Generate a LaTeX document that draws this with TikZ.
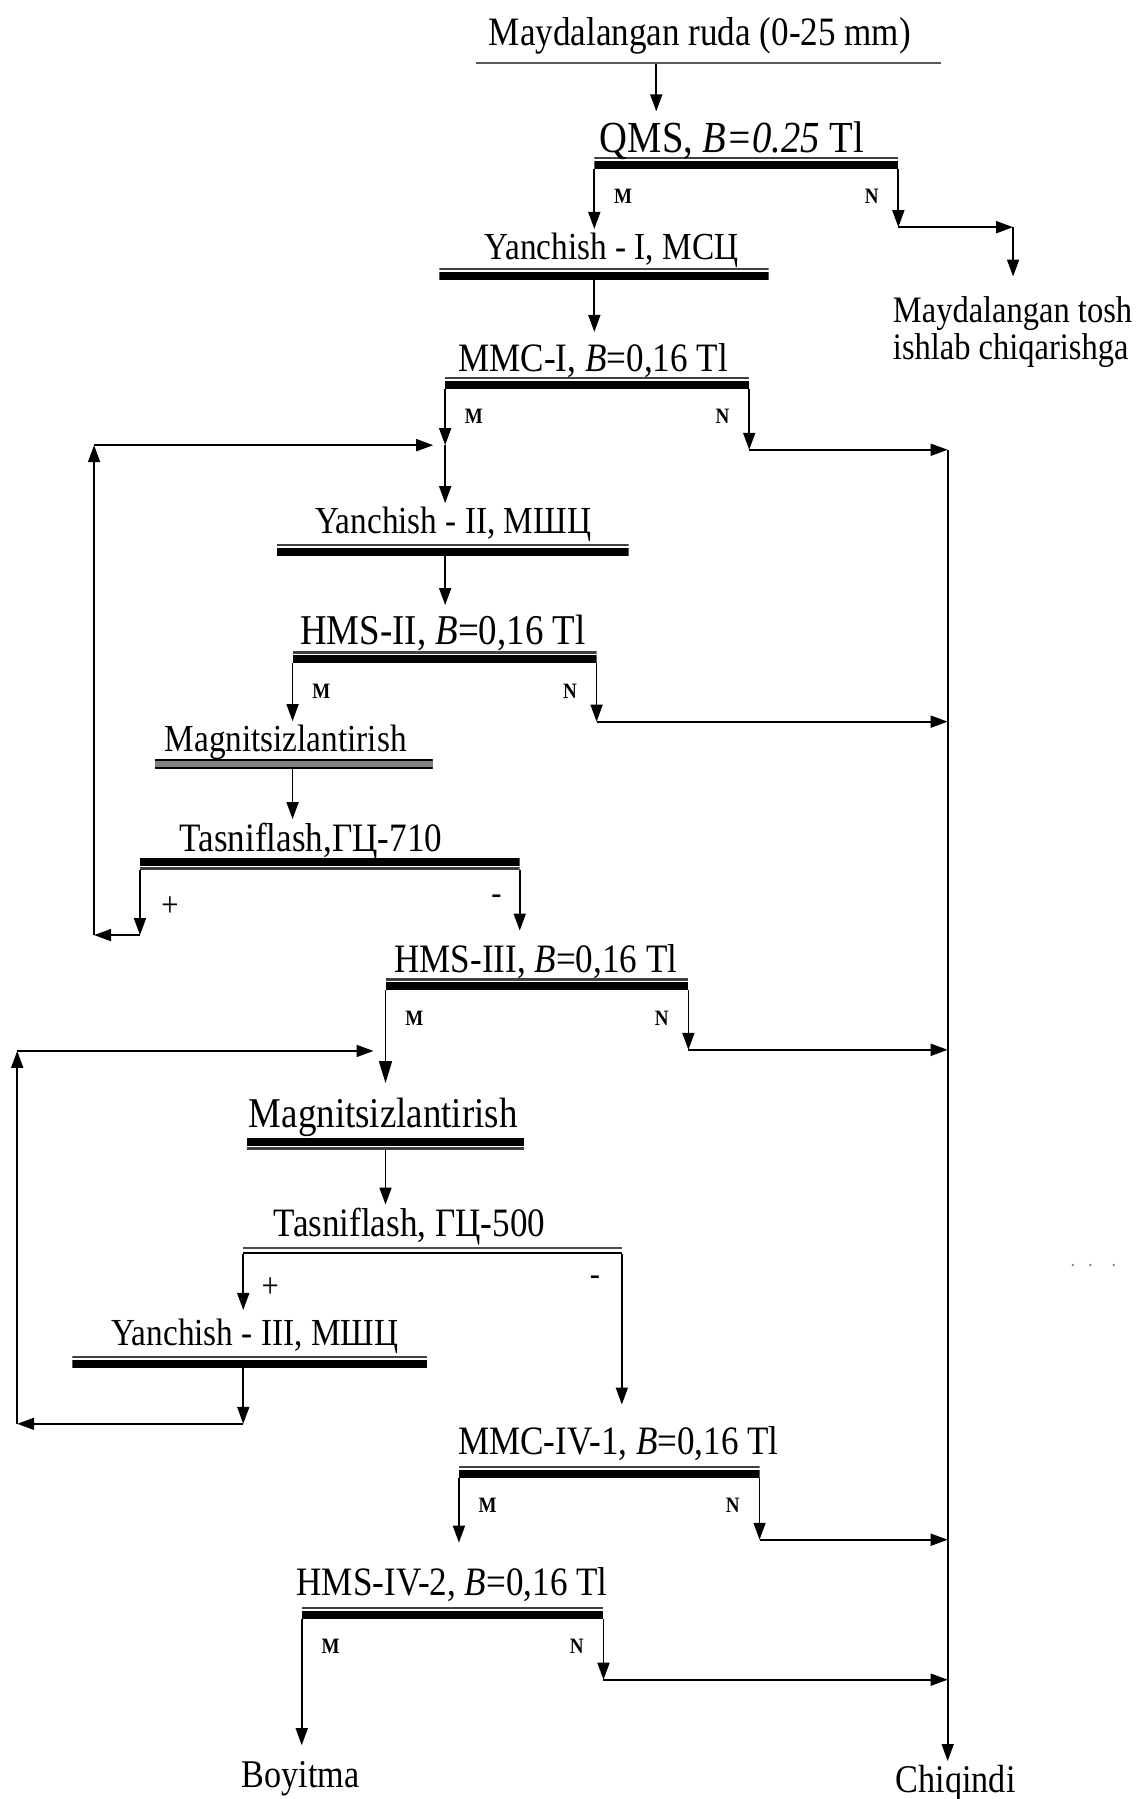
\documentclass[tikz,border=0pt]{standalone}
\usepackage{fontspec}
\setmainfont[FakeStretch=0.87]{Liberation Serif}
\usetikzlibrary{positioning,arrows.meta,calc}

\begin{document}
\begin{tikzpicture}[
    x=0.023cm, y=-0.023cm,
    lbl/.style={anchor=base, inner sep=2pt, font=\fontsize{#1}{#1}\selectfont},
    lbl/.default=23,
    tag/.style={inner sep=0pt, font=\fontsize{12.5}{14}\selectfont\bfseries},
    sgn/.style={inner sep=0pt, font=\fontsize{20}{22}\selectfont},
    span/.style={minimum width=#1*0.023cm},
    bar/.style={inner sep=0pt, outer sep=0pt, minimum height=2.4mm, fill=white, path picture={
        \fill[black!75] (path picture bounding box.north west) rectangle ([yshift=-0.45mm]path picture bounding box.north east);
        \fill[black] ([yshift=-0.8mm]path picture bounding box.north west) rectangle (path picture bounding box.south east);}},
    barr/.style={inner sep=0pt, outer sep=0pt, minimum height=2.3mm, fill=white, path picture={
        \fill[black] (path picture bounding box.north west) rectangle ([yshift=-1.55mm]path picture bounding box.north east);
        \fill[black!75] ([yshift=0.45mm]path picture bounding box.south west) rectangle (path picture bounding box.south east);}},
    dbar/.style={inner sep=0pt, outer sep=0pt, minimum height=1.4mm, fill=white, path picture={
        \fill[black!70] (path picture bounding box.north west) rectangle ([yshift=-0.4mm]path picture bounding box.north east);
        \fill[black] ([yshift=0.5mm]path picture bounding box.south west) rectangle (path picture bounding box.south east);}},
    gbar/.style={inner sep=0pt, outer sep=0pt, minimum height=2mm, fill=black!50, path picture={
        \fill[black] (path picture bounding box.north west) rectangle ([yshift=-0.45mm]path picture bounding box.north east);
        \fill[black] ([yshift=0.5mm]path picture bounding box.south west) rectangle (path picture bounding box.south east);}},
    arr/.style={line width=1pt, -{Triangle[length=3.4mm,width=2.4mm]}},
    arrbig/.style={line width=1pt, -{Triangle[length=4.4mm,width=2.6mm]}}
]
\useasboundingbox (0,0) rectangle (994,1568);

% Feed
\node[lbl] (ruda) at (610,40) {Maydalangan ruda (0-25 mm)};
\node[inner sep=0pt, minimum height=1pt, fill=gray!70!black, span=405] (feed) at (617.5,55) {};

% Bars of the stages
\node[bar, span=265] (qms) at (650.5,142) {};
\node[bar, span=287] (yI) at (526.5,239) {};
\node[bar, span=265] (mmcI) at (520.5,334) {};
\node[bar, span=307] (yII) at (394.5,479) {};
\node[bar, span=265] (hmsII) at (387.5,573) {};
\node[gbar, span=242] (magI) at (256,666) {};
\node[barr, span=331] (tasI) at (287.5,753) {};
\node[bar, span=264] (hmsIII) at (468,858) {};
\node[barr, span=242] (magII) at (336,997) {};
\node[dbar, span=330] (tasII) at (377,1090) {};
\node[bar, span=309] (yIII) at (217.5,1187) {};
\node[bar, span=262] (mmcIV) at (531,1283) {};
\node[bar, span=263] (hmsIV) at (394.5,1406) {};

% Stage names
\node[lbl=25.3] (qms-l) at (638,133) {QMS, \textit{B=0.25} Tl};
\node[lbl=21.8] (yI-l) at (533,226) {Yanchish - I, МСЦ};
\node[lbl] (mmcI-l) at (517,324) {MMC-I, \textit{B}=0,16 Tl};
\node[lbl=21.8] (yII-l) at (395,465) {Yanchish - II, МШЦ};
\node[lbl=24.2] (hmsII-l) at (386,562) {HMS-II, \textit{B}=0,16 Tl};
\node[lbl=21.8] (magI-l) at (249,655) {Magnitsizlantirish};
\node[lbl] (tasI-l) at (271,742) {Tasniflash,ГЦ-710};
\node[lbl] (hmsIII-l) at (467,848) {HMS-III, \textit{B}=0,16 Tl};
\node[lbl=24.2] (magII-l) at (334,983) {Magnitsizlantirish};
\node[lbl] (tasII-l) at (357,1078) {Tasniflash, ГЦ-500};
\node[lbl=21.8] (yIII-l) at (222,1173) {Yanchish - III, МШЦ};
\node[lbl] (mmcIV-l) at (539,1268) {MMC-IV-1, \textit{B}=0,16 Tl};
\node[lbl] (hmsIV-l) at (394,1391) {HMS-IV-2, \textit{B}=0,16 Tl};

% Products
\node[anchor=north west, inner sep=0pt, align=left, font=\fontsize{21.3}{21.5}\selectfont] (tosh) at (778,258) {Maydalangan tosh\\ishlab chiqarishga};
\node[lbl=22.4] (boy) at (262,1558) {Boyitma};
\node[lbl=22.4] (chiq) at (833,1562) {Chiqindi};
\node[anchor=base, inner sep=0pt, text=gray, font=\fontsize{12}{14}\selectfont] (dots) at (953,1104) {.\hspace{2.6mm}.\hspace{3.8mm}.};

% M / N outputs
\node[tag, below right=4mm and 3.9mm of qms.south west] {M};
\node[tag, below left=4mm and 3.9mm of qms.south east] {N};
\node[tag, below right=4mm and 3.9mm of mmcI.south west] {M};
\node[tag, below left=4mm and 3.9mm of mmcI.south east] {N};
\node[tag, below right=4mm and 3.9mm of hmsII.south west] {M};
\node[tag, below left=4mm and 3.9mm of hmsII.south east] {N};
\node[tag, below right=4mm and 3.9mm of hmsIII.south west] {M};
\node[tag, below left=4mm and 3.9mm of hmsIII.south east] {N};
\node[tag, below right=4mm and 3.9mm of mmcIV.south west] {M};
\node[tag, below left=4mm and 3.9mm of mmcIV.south east] {N};
\node[tag, below right=4mm and 3.9mm of hmsIV.south west] {M};
\node[tag, below left=4mm and 3.9mm of hmsIV.south east] {N};

% Classifier outputs
\node[sgn, below right=5.4mm and 4.2mm of tasI.south west] {+};
\node[sgn, below left=5mm and 3.6mm of tasI.south east] {-};
\node[sgn, below right=4.7mm and 3.6mm of tasII.south west] {+};
\node[sgn, below left=4.3mm and 4.3mm of tasII.south east] {-};

% Corners of the flow lines
\coordinate (qms-in) at (572,97);
\coordinate (qms-n) at (883,198);
\coordinate (tosh-in) at (883,241);
\coordinate (ret1) at (82,388);
\coordinate (ret1b) at (82,815);
\coordinate (ret2) at (15,916);
\coordinate (ret2b) at (15,1241);
\coordinate (out) at (826,392);
\coordinate (in2) at (826,629);
\coordinate (in3) at (826,915);
\coordinate (in4) at (826,1342);
\coordinate (in5) at (826,1464);

% Main line
\draw[arr] (feed.south -| qms-in) -- (qms-in);
\draw[arr] (qms.south west) -- (qms.south west |- yI-l.north);
\draw[arr] (qms.south east) -- (qms.south east |- qms-n);
\draw[arr] (qms.south east |- qms-n) -- (qms-n);
\draw[arr] (qms-n) -- (tosh-in);
\draw[arr, shorten >=1.6mm] (yI.south -| qms.south west) -- (qms.south west |- mmcI-l.north);
\draw[arr] (mmcI.south west) -- (mmcI.south west |- ret1);
\draw[arr] (mmcI.south west |- ret1) -- (mmcI.south west |- yII-l.north);
\draw[arr, shorten >=1.3mm] (yII.south -| mmcI.south west) -- (mmcI.south west |- hmsII-l.north);
\draw[arr] (hmsII.south west) -- (hmsII.south west |- magI-l.north);
\draw[arr] (magI.south -| hmsII.south west) -- (hmsII.south west |- tasI-l.north);
\draw[arr, shorten >=2.1mm] (tasI.south east) -- (tasI.south east |- hmsIII-l.north);
\draw[arrbig, shorten >=2.3mm] (hmsIII.south west) -- (hmsIII.south west |- magII-l.north);
\draw[arr] (magII.south -| hmsIII.south west) -- (hmsIII.south west |- tasII-l.north);
\draw[arr, shorten >=1.1mm] (tasII.south west) -- (tasII.south west |- yIII-l.north);
\draw[arr, shorten >=3.7mm] (tasII.south east) -- (tasII.south east |- mmcIV-l.north);
\draw[arr, shorten >=4.3mm] (mmcIV.south west) -- (mmcIV.south west |- hmsIV-l.north);
\draw[arr, shorten >=2.5mm] (hmsIV.south west) -- (hmsIV.south west |- boy.north);

% Recycle loops
\draw[arr] (tasI.south west) -- (tasI.south west |- ret1b);
\draw[arr] (tasI.south west |- ret1b) -- (ret1b);
\draw[arr] (ret1b) -- (ret1);
\draw[arr, shorten >=2.4mm] (ret1) -- (mmcI.south west |- ret1);
\draw[arr] (yIII.south -| tasII.south west) -- (tasII.south west |- ret2b);
\draw[arr] (tasII.south west |- ret2b) -- (ret2b);
\draw[arr] (ret2b) -- (ret2);
\draw[arr, shorten >=2.4mm] (ret2) -- (hmsIII.south west |- ret2);

% Tailings
\draw[arr] (mmcI.south east) -- (mmcI.south east |- out);
\draw[arr] (mmcI.south east |- out) -- (out);
\draw[arr] (hmsII.south east) -- (hmsII.south east |- in2);
\draw[arr] (hmsII.south east |- in2) -- (in2);
\draw[arr] (hmsIII.south east) -- (hmsIII.south east |- in3);
\draw[arr] (hmsIII.south east |- in3) -- (in3);
\draw[arr] (mmcIV.south east) -- (mmcIV.south east |- in4);
\draw[arr] (mmcIV.south east |- in4) -- (in4);
\draw[arr] (hmsIV.south east) -- (hmsIV.south east |- in5);
\draw[arr] (hmsIV.south east |- in5) -- (in5);
\draw[arr] (out) -- (out |- chiq.north);
\end{tikzpicture}
\end{document}
